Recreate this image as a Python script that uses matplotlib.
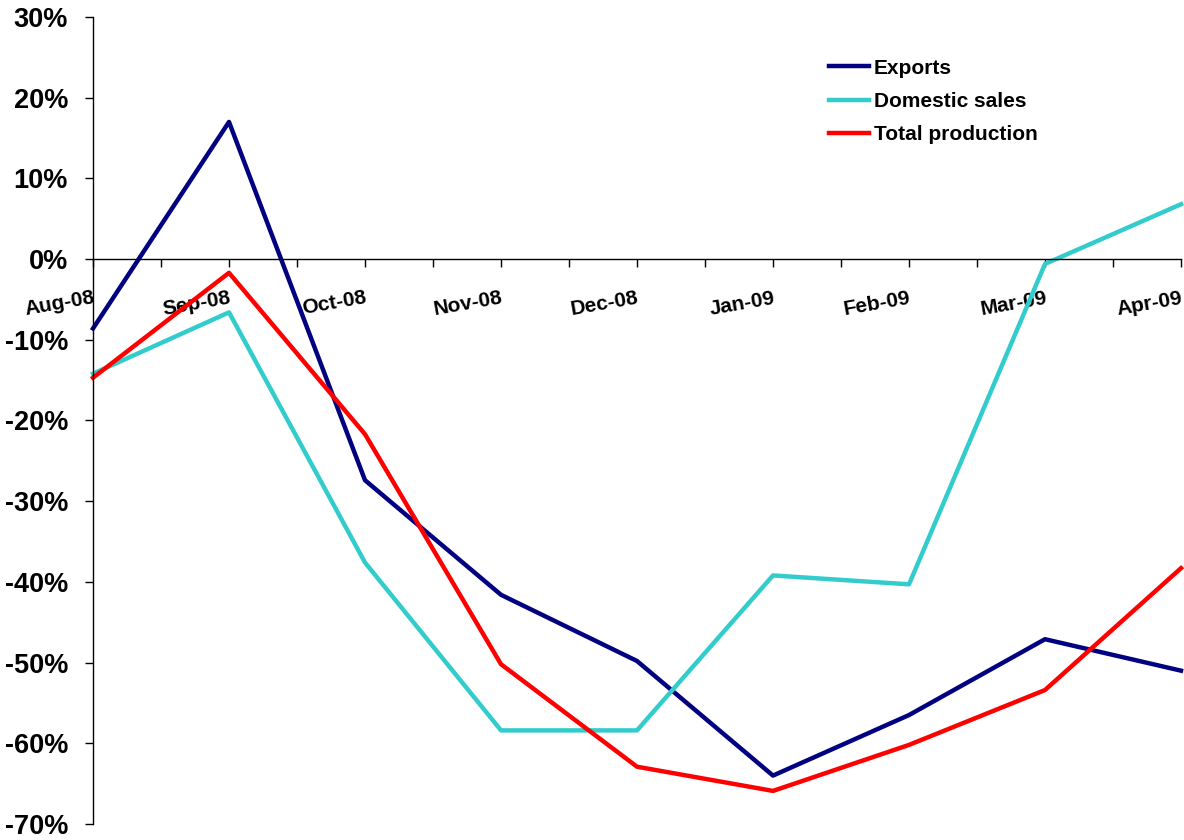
import matplotlib
matplotlib.use("Agg")
import matplotlib.pyplot as plt
import numpy as np
from matplotlib.ticker import FuncFormatter, MultipleLocator

months = ["Aug-08", "Sep-08", "Oct-08", "Nov-08", "Dec-08", "Jan-09", "Feb-09", "Mar-09", "Apr-09"]
exports = [-8.6, 17.0, -27.4, -41.6, -49.8, -64.0, -56.5, -47.1, -51.0]
domestic = [-14.2, -6.6, -37.6, -58.4, -58.4, -39.2, -40.3, -0.6, 6.8]
total = [-14.7, -1.7, -21.7, -50.2, -62.9, -65.9, -60.2, -53.4, -38.3]

plt.rcParams['font.family'] = ['Liberation Sans', 'DejaVu Sans']
plt.rcParams['font.weight'] = 'bold'

fig = plt.figure(figsize=(11.84, 8.4), dpi=100)
ax = fig.add_axes([93/1184, 1-824/840, (1181-93)/1184, (824-17)/840])

x = np.arange(len(months))
ax.plot(x, np.array(exports)/100, color='#000080', lw=3.2, label='Exports', clip_on=False)
ax.plot(x, np.array(domestic)/100, color='#33CCCC', lw=3.2, label='Domestic sales', clip_on=False)
ax.plot(x, np.array(total)/100, color='#FF0000', lw=3.2, label='Total production', clip_on=False)

ax.yaxis.set_major_locator(MultipleLocator(0.1))
ax.yaxis.set_major_formatter(FuncFormatter(lambda v, p: f"{v*100:.0f}%"))
ax.tick_params(axis='y', labelsize=19.5, length=6, width=1, direction='out', pad=12)
for s in ['top', 'right']:
    ax.spines[s].set_visible(False)
ax.spines['bottom'].set_position(('data', 0))
ax.spines['bottom'].set_linewidth(1)
ax.spines['left'].set_linewidth(1)

ax.set_xticks(x)
ax.set_xticks(np.arange(0.5, len(months)-1, 1.0), minor=True)
ax.tick_params(axis='x', which='both', length=6, width=1, direction='out')
ax.set_xticklabels(months, rotation=10, ha='right', rotation_mode='anchor', fontsize=15, fontweight='bold')
ax.tick_params(axis='x', which='major', pad=15)
ax.set_xlim(0, len(months)-1)
ax.set_ylim(-0.7, 0.3)

leg = ax.legend(loc='upper left', bbox_to_anchor=(810/1184, 1-40/840), bbox_transform=fig.transFigure,
                frameon=False, fontsize=15, handlelength=1.95, handletextpad=0.2, labelspacing=0.68)

fig.savefig('out.png', dpi=100)
